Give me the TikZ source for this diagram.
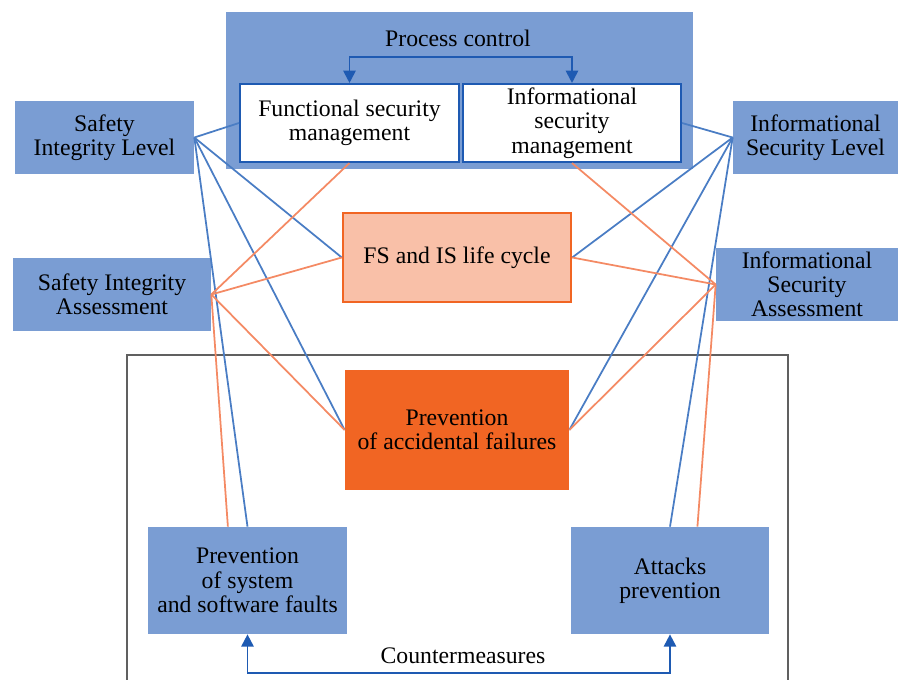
\documentclass[tikz,border=0pt]{standalone}
\usepackage{fontspec}
\setmainfont{Liberation Serif}
\usetikzlibrary{arrows.meta}

\definecolor{boxblue}{RGB}{122,157,211}
\definecolor{lineblue}{RGB}{74,125,196}
\definecolor{darkblue}{RGB}{30,90,178}
\definecolor{lineorange}{RGB}{244,138,100}
\definecolor{lightsalmon}{RGB}{249,192,168}
\definecolor{deeporange}{RGB}{241,101,35}

\tikzset{
    bluebox/.style={fill=boxblue, inner sep=2pt, align=center},
    whitebox/.style={fill=white, draw=darkblue, line width=1.2pt, inner sep=2pt, align=center},
    blueline/.style={lineblue, line width=1pt},
    orangeline/.style={lineorange, line width=1pt},
    ctrlarrow/.style={darkblue, line width=1.1pt, {Triangle[width=7pt,length=7pt]}-{Triangle[width=7pt,length=7pt]}}
}

\begin{document}
\begin{tikzpicture}[x=0.02cm, y=-0.02cm, font=\fontsize{13.5}{13.8}\selectfont]
    \useasboundingbox (0,0) rectangle (900,680);

    % Outer frame (countermeasures)
    \draw[gray!75!black, line width=1.1pt] (127,680) |- (788,355) -- (788,680);

    % Process control block
    \node[bluebox, minimum width=9.34cm, minimum height=3.14cm] (pc) at (459.5,90.5) {};
    \node (pclabel) at (458,38) {Process control};
    \node[whitebox, minimum width=4.38cm, minimum height=1.56cm] (fsm) at (349.5,123) {Functional security\\management};
    \node[whitebox, minimum width=4.36cm, minimum height=1.56cm] (ism) at (572,123) {Informational\\security\\management};

    % Side boxes
    \node[bluebox, minimum width=3.58cm, minimum height=1.46cm] (sil) at (104.5,137.5) {Safety\\Integrity Level};
    \node[bluebox, minimum width=3.96cm, minimum height=1.46cm] (sia) at (112,294.5) {Safety Integrity\\Assessment};
    \node[bluebox, minimum width=3.30cm, minimum height=1.46cm] (isl) at (815.5,137.5) {Informational\\Security Level};
    \node[bluebox, minimum width=3.64cm, minimum height=1.46cm] (isa) at (807,284.5) {Informational\\Security\\Assessment};

    % Central boxes
    \node[fill=lightsalmon, draw=deeporange, line width=1.4pt, minimum width=4.56cm, minimum height=1.78cm] (fsis) at (457,257.5) {FS and IS life cycle};
    \node[fill=deeporange, align=center, minimum width=4.48cm, minimum height=2.4cm] (paf) at (457,430) {Prevention\\of accidental failures};

    % Countermeasures
    \node[bluebox, minimum width=3.98cm, minimum height=2.14cm] (pssf) at (247.5,580.5) {Prevention\\of system\\and software faults};
    \node[bluebox, minimum width=3.96cm, minimum height=2.14cm] (ap) at (670,580.5) {Attacks\\prevention};
    \node (cm) at (463,656) {Countermeasures};

    % Connections
    \foreach \a/\b in {sil.east/fsm.west, sil.east/fsis.west, sil.east/paf.west, sil.east/pssf.north,
                       isl.west/ism.east, isl.west/fsis.east, isl.west/paf.east, isl.west/ap.north} {
        \draw[blueline] (\a) -- (\b);
    }
    \foreach \a/\b in {sia.east/fsm.south, sia.east/fsis.west, sia.east/paf.west, sia.east/pssf.110,
                       isa.west/ism.south, isa.west/fsis.east, isa.west/paf.east, isa.west/ap.63} {
        \draw[orangeline] (\a) -- (\b);
    }

    % Control arrows
    \draw[ctrlarrow] (fsm.north) -- ++(0,-26) -| (ism.north);
    \draw[ctrlarrow] (pssf.south) -- ++(0,39) -| (ap.south);

\end{tikzpicture}
\end{document}
